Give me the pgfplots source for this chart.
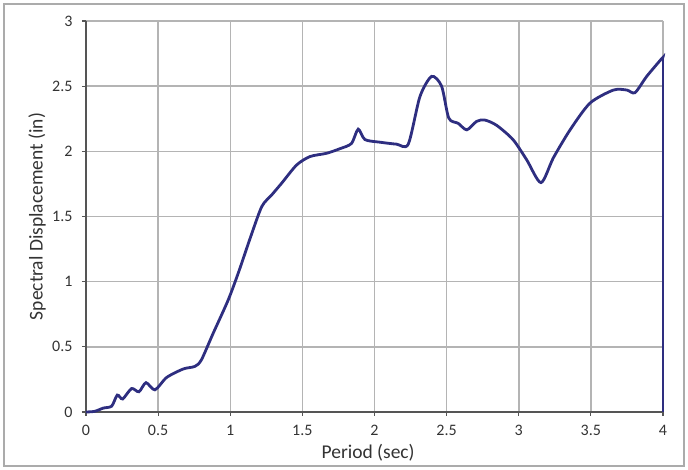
\documentclass[border=0pt]{standalone}
\usepackage{fontspec}
\setmainfont{Carlito}
\usepackage{pgfplots}
\pgfplotsset{compat=1.18}
\definecolor{navyline}{HTML}{2E2E80}
\definecolor{gridgray}{HTML}{B4B4B4}
\definecolor{axisgray}{HTML}{555555}
\definecolor{bordergray}{HTML}{ABABAB}
\definecolor{textgray}{HTML}{333333}
\begin{document}
\begin{tikzpicture}[x=1pt,y=1pt]
\useasboundingbox (0,0) rectangle (688,470);
\draw[color=bordergray, line width=2.2pt] (4,4) rectangle (684,466);
\begin{axis}[
  at={(86pt,58pt)}, anchor=origin,
  scale only axis, width=577pt, height=391pt,
  xmin=0, xmax=4, ymin=0, ymax=3,
  xtick={0,0.5,1,1.5,2,2.5,3,3.5,4},
  ytick={0,0.5,1,1.5,2,2.5,3},
  axis lines*=left,
  axis line style={color=axisgray, line width=2pt},
  grid=major,
  major grid style={color=gridgray, line width=1.5pt},
  tick align=outside,
  major tick length=4pt,
  tick style={color=axisgray, line width=1.2pt},
  /pgf/number format/assume math mode=true,
  ticklabel style={font=\fontsize{16}{16}\selectfont, color=textgray},
  xticklabel style={anchor=center, yshift=-14pt},
  yticklabel style={anchor=east, xshift=-6pt},
  xlabel={Period (sec)},
  ylabel={Spectral Displacement (in)},
  label style={font=\fontsize{19.5}{19.5}\selectfont, color=textgray},
  xlabel style={at={(axis description cs:0.489,-0.104)}, anchor=center},
  ylabel style={at={(axis description cs:-0.085,0.5)}, anchor=center, rotate=0},
  clip=false,
]
\addplot[color=navyline, line width=2.8pt, smooth, tension=0.45] coordinates {
(0,0)(0.06,0.005)(0.12,0.03)(0.178,0.045)(0.217,0.13)(0.254,0.10)(0.316,0.18)(0.367,0.155)(0.416,0.225)(0.478,0.17)(0.559,0.265)(0.674,0.33)(0.755,0.35)(0.80,0.40)(0.88,0.60)(0.986,0.86)(1.06,1.08)(1.137,1.33)(1.218,1.575)(1.287,1.665)(1.356,1.755)(1.46,1.895)(1.553,1.96)(1.668,1.985)(1.76,2.02)(1.84,2.06)(1.887,2.17)(1.934,2.09)(2.038,2.07)(2.153,2.055)(2.234,2.055)(2.315,2.42)(2.396,2.575)(2.465,2.50)(2.515,2.255)(2.58,2.215)(2.64,2.165)(2.708,2.23)(2.765,2.24)(2.846,2.2)(2.96,2.09)(3.055,1.935)(3.154,1.76)(3.24,1.95)(3.356,2.165)(3.494,2.37)(3.656,2.47)(3.75,2.47)(3.806,2.45)(3.887,2.575)(3.99,2.71)(4,2.72)
};
\addplot[color=navyline, line width=2.2pt] coordinates {(4,2.72)(4,0)};
\end{axis}
\end{tikzpicture}
\end{document}
